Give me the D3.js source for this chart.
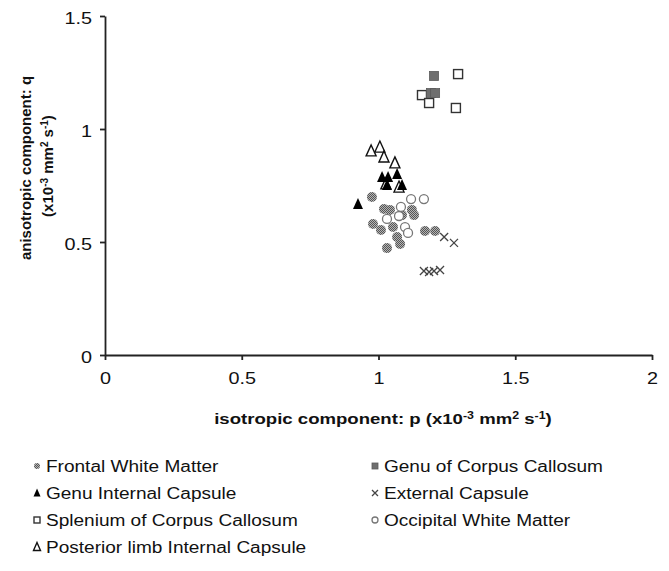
<!DOCTYPE html>
<html>
<head>
<meta charset="utf-8">
<script src="https://cdn.jsdelivr.net/npm/d3@7"></script>
<style>
  html, body { margin: 0; padding: 0; background: #fff; }
  svg { display: block; font-family: "Liberation Sans", Arial, sans-serif; }
</style>
</head>
<body>
<svg id="chart" width="669" height="571"></svg>
<script>
// Isotropic (p) vs anisotropic (q) diffusion components per region, x10^-3 mm^2 s^-1
const frontalWM_p = [0.976, 1.020, 1.042, 1.086, 1.122, 1.130, 0.980, 1.009, 1.053, 1.068, 1.079, 1.031, 1.170, 1.207];
const frontalWM_q = [0.699, 0.646, 0.642, 0.619, 0.642, 0.619, 0.580, 0.553, 0.566, 0.522, 0.491, 0.473, 0.549, 0.549];

const genuCC_p = [1.203, 1.192, 1.207];
const genuCC_q = [1.235, 1.159, 1.159];

const genuIC_p = [1.013, 1.035, 1.068, 1.031, 1.086, 0.925];
const genuIC_q = [0.788, 0.788, 0.801, 0.752, 0.752, 0.668];

const externalCap_p = [1.240, 1.276, 1.166, 1.185, 1.203, 1.225];
const externalCap_q = [0.522, 0.496, 0.372, 0.367, 0.372, 0.376];

const spleniumCC_p = [1.291, 1.159, 1.185, 1.283];
const spleniumCC_q = [1.243, 1.150, 1.115, 1.093];

const occipitalWM_p = [1.119, 1.166, 1.082, 1.075, 1.031, 1.097, 1.108];
const occipitalWM_q = [0.690, 0.690, 0.655, 0.615, 0.602, 0.566, 0.540];

const posteriorIC_p = [0.973, 1.005, 1.020, 1.060, 1.075, 1.027];
const posteriorIC_q = [0.903, 0.920, 0.876, 0.850, 0.743, 0.757];

const xTicks = [0, 0.5, 1, 1.5, 2];
const yTicks = [0, 0.5, 1, 1.5];

const seriesNames = [
  "Frontal White Matter", "Genu of Corpus Callosum",
  "Genu Internal Capsule", "External Capsule",
  "Splenium of Corpus Callosum", "Occipital White Matter",
  "Posterior limb Internal Capsule"
];

const zip = (ps, qs) => ps.map((p, i) => ({ p, q: qs[i] }));
const series = [
  { name: seriesNames[0], kind: "dotcircle", pts: zip(frontalWM_p, frontalWM_q) },
  { name: seriesNames[1], kind: "graysquare", pts: zip(genuCC_p, genuCC_q) },
  { name: seriesNames[2], kind: "filltri", pts: zip(genuIC_p, genuIC_q) },
  { name: seriesNames[3], kind: "cross", pts: zip(externalCap_p, externalCap_q) },
  { name: seriesNames[4], kind: "opensquare", pts: zip(spleniumCC_p, spleniumCC_q) },
  { name: seriesNames[5], kind: "opencircle", pts: zip(occipitalWM_p, occipitalWM_q) },
  { name: seriesNames[6], kind: "opentri", pts: zip(posteriorIC_p, posteriorIC_q) }
];
// draw order: later series sit on top
const drawOrder = [0, 5, 3, 6, 2, 4, 1];

// horizontal text is drawn slightly widened
const widen = (ax, ay, sx) => `translate(${ax},${ay}) scale(${sx},1) translate(${-ax},${-ay})`;

const svg = d3.select("#chart");

// dithered gray fill for the frontal white matter markers
const defs = svg.append("defs");
const pat = defs.append("pattern").attr("id", "dither")
  .attr("width", 2).attr("height", 2).attr("patternUnits", "userSpaceOnUse");
pat.append("rect").attr("width", 2).attr("height", 2).attr("fill", "#b4b4b4");
pat.append("rect").attr("width", 1).attr("height", 1).attr("fill", "#555");
pat.append("rect").attr("x", 1).attr("y", 1).attr("width", 1).attr("height", 1).attr("fill", "#555");

const x = d3.scaleLinear().domain([0, 2]).range([105, 652]);
const y = d3.scaleLinear().domain([0, 1.5]).range([355, 16]);

// axes
const xAxis = svg.append("g").attr("transform", `translate(0,${y(0)})`)
  .call(d3.axisBottom(x).tickValues(xTicks).tickFormat(d3.format("")).tickSizeInner(5).tickSizeOuter(0).tickPadding(13));
const yAxis = svg.append("g").attr("transform", `translate(${x(0)},0)`)
  .call(d3.axisLeft(y).tickValues(yTicks).tickFormat(d3.format("")).tickSizeInner(5).tickSizeOuter(0).tickPadding(8));
[xAxis, yAxis].forEach(g => {
  g.select(".domain").attr("stroke", "#222").attr("stroke-width", 1.8);
  g.selectAll(".tick line").attr("stroke", "#222").attr("stroke-width", 1.8);
  g.selectAll(".tick text").attr("fill", "#111").style("font-size", "16px")
    .style("font-family", "'Liberation Sans', Arial, sans-serif");
});
xAxis.selectAll(".tick text").attr("transform", widen(0, 0, 1.24));
yAxis.selectAll(".tick text").each(function () {
  const t = d3.select(this);
  t.attr("transform", widen(+t.attr("x"), 0, 1.24)).attr("dy", "0.45em");
});

// marker drawing
function marker(g, kind, cx, cy, s) {
  const h = s / 2;
  switch (kind) {
    case "dotcircle":
      g.append("circle").attr("cx", cx).attr("cy", cy).attr("r", h).attr("fill", "url(#dither)");
      break;
    case "graysquare":
      g.append("rect").attr("x", cx - h).attr("y", cy - h).attr("width", s).attr("height", s)
        .attr("fill", "#6e6e6e").attr("stroke", "#5a5a5a").attr("stroke-width", 0.8);
      break;
    case "filltri":
      g.append("path").attr("d", `M${cx},${cy - h - 1}L${cx + h},${cy + h}L${cx - h},${cy + h}Z`)
        .attr("fill", "#000");
      break;
    case "opentri":
      g.append("path").attr("d", `M${cx},${cy - h - 1}L${cx + h},${cy + h}L${cx - h},${cy + h}Z`)
        .attr("fill", "#fff").attr("stroke", "#111").attr("stroke-width", 1.4);
      break;
    case "opensquare":
      g.append("rect").attr("x", cx - h).attr("y", cy - h).attr("width", s).attr("height", s)
        .attr("fill", "#fff").attr("stroke", "#333").attr("stroke-width", 1.4);
      break;
    case "opencircle":
      g.append("circle").attr("cx", cx).attr("cy", cy).attr("r", h)
        .attr("fill", "#fff").attr("stroke", "#777").attr("stroke-width", 1.3);
      break;
    case "cross":
      g.append("path").attr("d", `M${cx - h},${cy - h}L${cx + h},${cy + h}M${cx - h},${cy + h}L${cx + h},${cy - h}`)
        .attr("stroke", "#444").attr("stroke-width", 1.3).attr("fill", "none");
      break;
  }
}

const plot = svg.append("g");
const sizes = { dotcircle: 10, graysquare: 9, filltri: 10, opentri: 10, opensquare: 9, opencircle: 9, cross: 8 };
drawOrder.forEach(i => {
  const s = series[i];
  const g = plot.append("g").attr("class", "series");
  s.pts.forEach(d => marker(g, s.kind, x(d.p), y(d.q), sizes[s.kind]));
});

// axis titles with superscripts
function titleParts(t, parts) {
  parts.forEach(([txt, sup]) => {
    const ts = t.append("tspan").text(txt);
    if (sup) ts.attr("baseline-shift", "super").style("font-size", "10px");
  });
}
const xTitle = svg.append("text").attr("x", 383).attr("y", 424).attr("text-anchor", "middle")
  .attr("transform", widen(383, 424, 1.24))
  .style("font-size", "15px").style("font-weight", "bold").attr("fill", "#111");
titleParts(xTitle, [["isotropic component: p (x10"], ["-3", true], [" mm"], ["2", true], [" s"], ["-1", true], [")"]]);

svg.append("text").attr("transform", "translate(31,168) rotate(-90)").attr("text-anchor", "middle")
  .style("font-size", "15px").style("font-weight", "bold").attr("fill", "#111")
  .text("anisotropic component: q");
const yT2 = svg.append("text").attr("transform", "translate(53,166) rotate(-90)").attr("text-anchor", "middle")
  .style("font-size", "15px").style("font-weight", "bold").attr("fill", "#111");
titleParts(yT2, [["(x10"], ["-3", true], [" mm"], ["2", true], [" s"], ["-1", true], [")"]]);

// legend: two columns, four rows
const legend = svg.append("g");
const colX = [37, 375], rowY0 = 466, rowH = 27;
const legSizes = { dotcircle: 6, graysquare: 6, filltri: 7, opentri: 7, opensquare: 6, opencircle: 6, cross: 6 };
series.forEach((s, i) => {
  const cx = colX[i % 2], cy = rowY0 + Math.floor(i / 2) * rowH;
  marker(legend, s.kind, cx, cy, legSizes[s.kind]);
  legend.append("text").attr("x", cx + 9).attr("y", cy + 6)
    .attr("transform", widen(cx + 9, cy + 6, 1.19))
    .style("font-size", "16px").attr("fill", "#111").text(s.name);
});
</script>
</body>
</html>
